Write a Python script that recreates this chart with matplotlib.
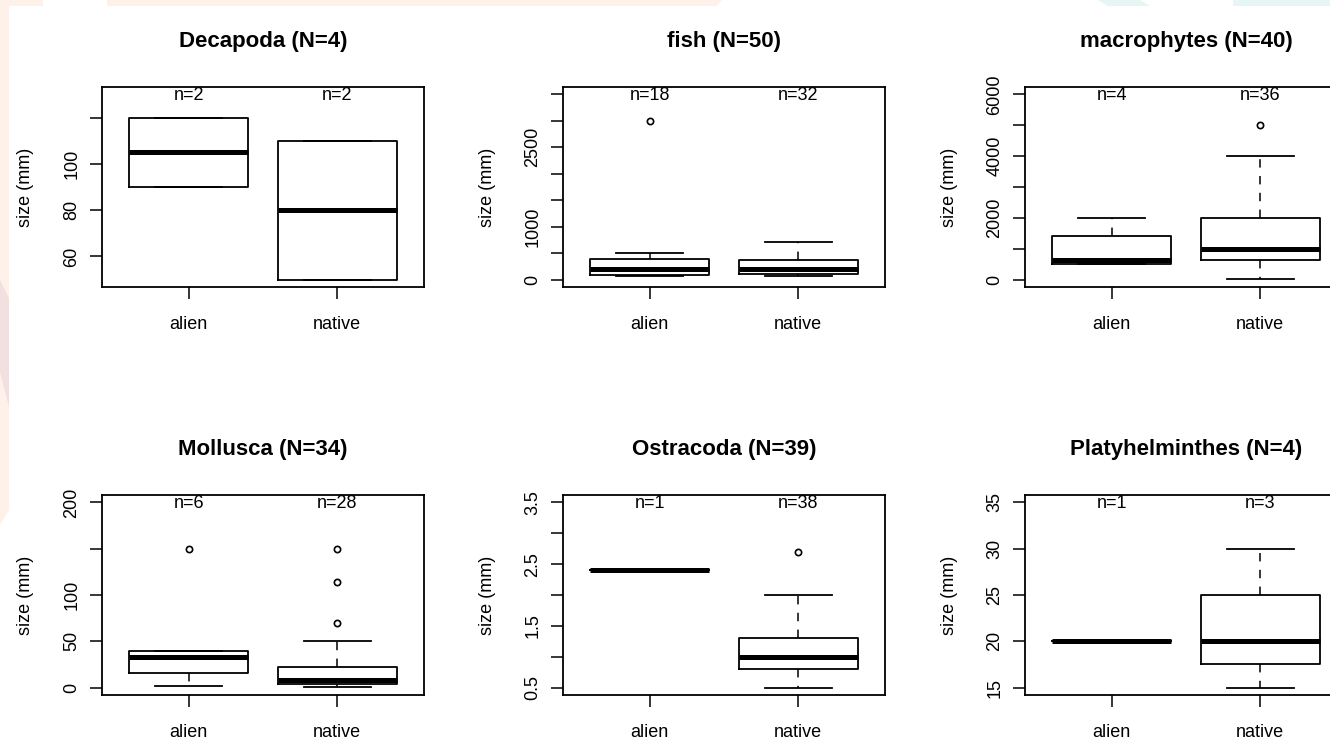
import matplotlib
matplotlib.use("Agg")
import matplotlib.pyplot as plt
from matplotlib.patches import Polygon

plt.rcParams['font.family'] = ['Liberation Sans', 'DejaVu Sans']

groups = ['alien', 'native']

titles = ['Decapoda (N=4)', 'fish (N=50)', 'macrophytes (N=40)',
          'Mollusca (N=34)', 'Ostracoda (N=39)', 'Platyhelminthes (N=4)']
counts = [[2, 2], [18, 32], [4, 36], [6, 28], [1, 38], [1, 3]]

# per group: (lower whisker, q1, median, q3, upper whisker)
decapoda = [(90, 90, 105, 120, 120), (50, 50, 80, 110, 110)]
fish = [(62, 95, 200, 390, 503), (62, 100, 200, 372, 704)]
macrophytes = [(506, 506, 645, 1397, 2000), (20, 645, 1000, 2000, 4000)]
mollusca = [(2, 15.5, 33.5, 40, 40), (1, 3.7, 8.3, 22, 50)]
ostracoda = [(2.4, 2.4, 2.4, 2.4, 2.4), (0.5, 0.8, 1.0, 1.3, 2.0)]
platyhelminthes = [(20, 20, 20, 20, 20), (15, 17.5, 20, 25, 30)]
summaries = [decapoda, fish, macrophytes, mollusca, ostracoda, platyhelminthes]

outliers = [[[], []], [[3000], []], [[], [5000]],
            [[150], [150, 114, 70]], [[], [2.7]], [[], []]]

# y range given to boxplot(ylim=...)
yranges = [(50, 130), (0, 3500), (0, 6000), (0, 200), (0.5, 3.5), (15, 35)]

yticks = [[60, 80, 100, 120],
          [0, 500, 1000, 1500, 2000, 2500, 3000, 3500],
          [0, 1000, 2000, 3000, 4000, 5000, 6000],
          [0, 50, 100, 150, 200],
          [0.5, 1.0, 1.5, 2.0, 2.5, 3.0, 3.5],
          [15, 20, 25, 30, 35]]
ytick_labels = [['60', '80', '100', ''],
                ['0', '', '1000', '', '', '2500', '', ''],
                ['0', '', '2000', '', '4000', '', '6000'],
                ['0', '50', '100', '', '200'],
                ['0.5', '', '1.5', '', '2.5', '', '3.5'],
                ['15', '20', '25', '30', '35']]

W, H = 1330, 743
fig = plt.figure(figsize=(W / 100, H / 100), dpi=100)

# faint slide decoration in the background
pink = '#fdf1e9'
pink2 = '#f2e0e0'
cyan = '#e5f6f5'
deco = [
    ([(0, 0), (43, 0), (43, 6), (0, 6)], pink),
    ([(107, 0), (722, 0), (716, 6), (107, 6)], pink),
    ([(0, 6), (9, 6), (9, 510), (0, 525)], pink),
    ([(0, 280), (9, 298), (9, 407), (0, 372)], pink2),
    ([(1098, 0), (1140, 0), (1150, 6), (1108, 6)], cyan),
    ([(1233, 0), (1330, 0), (1330, 6), (1233, 6)], cyan),
]
for pts, col in deco:
    fig.add_artist(Polygon([(x / W, 1 - y / H) for x, y in pts], closed=True,
                           transform=fig.transFigure, facecolor=col,
                           edgecolor='none', zorder=0))

lefts = [102, 563, 1025]
tops = [87, 495]
aw, ah = 322, 200

for i in range(6):
    row, col = divmod(i, 3)
    ax = fig.add_axes([lefts[col] / W, 1 - (tops[row] + ah) / H, aw / W, ah / H])
    ax.patch.set_alpha(0)

    stats = []
    for (lo, q1, med, q3, hi), fl in zip(summaries[i], outliers[i]):
        stats.append({'whislo': lo, 'q1': q1, 'med': med, 'q3': q3,
                      'whishi': hi, 'fliers': fl})
    ax.bxp(stats, positions=[1, 2], widths=0.8, capwidths=0.45,
           boxprops=dict(color='black', linewidth=1.3),
           whiskerprops=dict(color='black', linewidth=1.1, linestyle=(0, (5.5, 5.5))),
           capprops=dict(color='black', linewidth=1.3),
           medianprops=dict(color='black', linewidth=3.6, solid_capstyle='butt'),
           flierprops=dict(marker='o', markerfacecolor='none', markeredgecolor='black',
                           markersize=4.5, markeredgewidth=1.2))

    lo, hi = yranges[i]
    ext = 0.04 * (hi - lo)
    ax.set_ylim(lo - ext, hi + ext)
    ax.set_xlim(0.417, 2.583)

    ax.set_yticks(yticks[i])
    ax.set_yticklabels(ytick_labels[i], rotation=90, va='center')
    ax.set_xticks([1, 2])
    ax.set_xticklabels(groups)
    ax.tick_params(direction='out', length=8.6, width=1.1, labelsize=13,
                   colors='black')
    ax.tick_params(axis='y', pad=7)
    ax.tick_params(axis='x', pad=12)
    for s in ax.spines.values():
        s.set_linewidth(1.3)

    for x, n in zip([1, 2], counts[i]):
        ax.text(x, 0.935, 'n=%d' % n, transform=ax.get_xaxis_transform(),
                ha='center', va='baseline', fontsize=13)

    ax.text(0.5, 1.225, titles[i], transform=ax.transAxes, ha='center',
            va='center', fontsize=16, fontweight='bold')
    ax.text(-76 / aw, 0.5, 'size (mm)', transform=ax.transAxes, ha='center',
            va='center', rotation=90, fontsize=13)

fig.savefig('out.png', dpi=100)
